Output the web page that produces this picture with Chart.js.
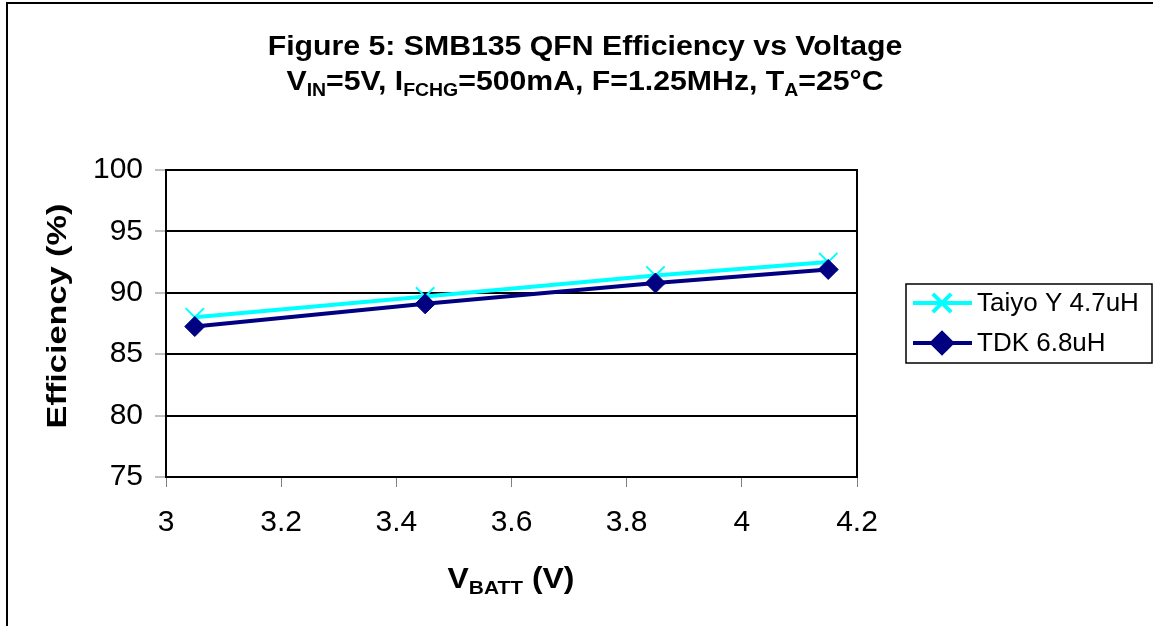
<!DOCTYPE html>
<html>
<head>
<meta charset="utf-8">
<script src="https://cdn.jsdelivr.net/npm/chart.js@4.4.0/dist/chart.umd.min.js"></script>
<style>
  body { margin: 0; background: #fff; }
  canvas { display: block; }
</style>
</head>
<body>
<canvas id="effChart" width="1153" height="626"></canvas>
<script>
// data
const vbatt = [3.05, 3.45, 3.85, 4.15];
const taiyo = [88.0, 89.7, 91.4, 92.5];
const tdk = [87.25, 89.1, 90.8, 91.9];
const seriesNames = ["Taiyo Y 4.7uH", "TDK 6.8uH"];
const xTicks = [3, 3.2, 3.4, 3.6, 3.8, 4, 4.2];
const yTicks = [75, 80, 85, 90, 95, 100];

const FONT = "'Liberation Sans', Arial, sans-serif";

// text made of [text, isSub] pieces, centred on cx, optionally stretched sideways
function richText(ctx, parts, cx, y, size, sx) {
  sx = sx || 1;
  const subSize = Math.round(size * 0.64);
  let total = 0;
  parts.forEach(p => {
    ctx.font = "bold " + (p[1] ? subSize : size) + "px " + FONT;
    total += ctx.measureText(p[0]).width * sx;
  });
  let x = cx - total / 2;
  ctx.textAlign = "left";
  ctx.textBaseline = "alphabetic";
  parts.forEach(p => {
    ctx.font = "bold " + (p[1] ? subSize : size) + "px " + FONT;
    ctx.save();
    ctx.translate(x, p[1] ? y + size * 0.2 : y);
    ctx.scale(sx, 1);
    ctx.fillText(p[0], 0, 0);
    ctx.restore();
    x += ctx.measureText(p[0]).width * sx;
  });
}

const decorations = {
  id: "decorations",
  beforeDatasetsDraw(chart) {
    const { ctx, chartArea: a } = chart;
    ctx.save();
    ctx.strokeStyle = "#000";
    ctx.lineWidth = 2;
    ctx.strokeRect(a.left, a.top, a.right - a.left, a.bottom - a.top);
    ctx.restore();
  },
  afterDraw(chart) {
    const { ctx } = chart;
    ctx.save();
    ctx.fillStyle = "#000";

    // outer frame
    ctx.strokeStyle = "#000";
    ctx.lineWidth = 2;
    ctx.beginPath();
    ctx.moveTo(7, 626);
    ctx.lineTo(7, 3);
    ctx.lineTo(1153, 3);
    ctx.stroke();

    // titles
    richText(ctx, [["Figure 5: SMB135 QFN Efficiency vs Voltage", false]], 585, 55, 28, 1.08);
    richText(ctx, [["V", false], ["IN", true], ["=5V, I", false], ["FCHG", true],
      ["=500mA, F=1.25MHz, T", false], ["A", true], ["=25°C", false]], 585, 90, 28, 1.08);
    richText(ctx, [["V", false], ["BATT", true], [" (V)", false]], 511, 588, 29, 1.1);

    ctx.save();
    ctx.translate(66, 316);
    ctx.rotate(-Math.PI / 2);
    richText(ctx, [["Efficiency (%)", false]], 0, 0, 27, 1.27);
    ctx.restore();

    // legend
    ctx.lineWidth = 1.5;
    ctx.strokeRect(906, 284, 246, 79);
    const rows = [303, 343];
    chart.data.datasets.forEach((ds, i) => {
      const y = rows[i];
      ctx.strokeStyle = ds.borderColor;
      ctx.lineWidth = 4;
      ctx.beginPath();
      ctx.moveTo(913, y);
      ctx.lineTo(972, y);
      ctx.stroke();
      ctx.fillStyle = ds.backgroundColor;
      Chart.helpers.drawPoint(ctx, {
        pointStyle: ds.pointStyle,
        radius: ds.pointRadius,
        borderWidth: ds.pointBorderWidth
      }, 942, y);
      ctx.fillStyle = "#000";
      ctx.font = "26px " + FONT;
      ctx.textAlign = "left";
      ctx.textBaseline = "middle";
      ctx.fillText(ds.label, 977, y + 1);
    });
    ctx.restore();
  }
};

const ctx = document.getElementById("effChart");

new Chart(ctx, {
  type: "line",
  data: {
    datasets: [
      {
        label: seriesNames[0],
        data: vbatt.map((v, i) => ({ x: v, y: taiyo[i] })),
        borderColor: "#00FFFF",
        backgroundColor: "#00FFFF",
        borderWidth: 4,
        pointStyle: "crossRot",
        pointRadius: 13,
        pointBorderWidth: 2,
        pointBorderColor: "#00FFFF",
        order: 2
      },
      {
        label: seriesNames[1],
        data: vbatt.map((v, i) => ({ x: v, y: tdk[i] })),
        borderColor: "#000080",
        backgroundColor: "#000080",
        borderWidth: 4,
        pointStyle: "rectRot",
        pointRadius: 10,
        pointBorderWidth: 1,
        pointBorderColor: "#000080",
        order: 1
      }
    ]
  },
  options: {
    responsive: false,
    animation: false,
    layout: { padding: { left: 0, top: 170, right: 296, bottom: 0 } },
    plugins: {
      legend: { display: false },
      title: { display: false },
      tooltip: { enabled: false }
    },
    scales: {
      x: {
        type: "linear",
        min: 3,
        max: 4.2,
        afterBuildTicks: s => { s.ticks = xTicks.map(v => ({ value: v })); },
        afterFit: s => { s.height = 149; },
        grid: { drawOnChartArea: false, drawTicks: true, tickLength: 10, tickColor: "#808080", tickWidth: 1 },
        border: { display: true, color: "#000", width: 2 },
        ticks: { color: "#000", font: { family: FONT, size: 30 }, padding: 18, maxRotation: 0,
          callback: v => String(+v.toFixed(1)) }
      },
      y: {
        min: 75,
        max: 100,
        afterBuildTicks: s => { s.ticks = yTicks.map(v => ({ value: v })); },
        afterFit: s => { s.width = 166; },
        grid: { color: "#000", lineWidth: 2, tickLength: 11, tickColor: "#808080", tickWidth: 1 },
        border: { display: true, color: "#000", width: 2 },
        ticks: { color: "#000", font: { family: FONT, size: 30 }, padding: 12 }
      }
    }
  },
  plugins: [decorations]
});
</script>
</body>
</html>
